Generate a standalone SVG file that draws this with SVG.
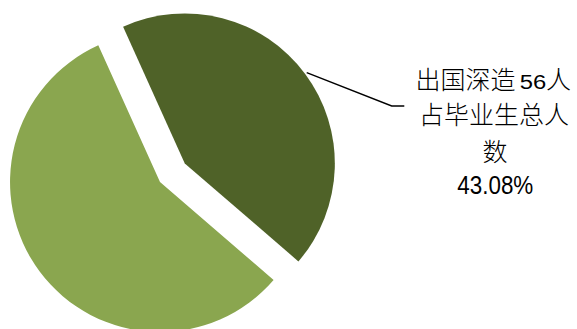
<svg xmlns="http://www.w3.org/2000/svg" width="577" height="329" viewBox="0 0 577 329">
<style>
.lbl{font-family:"Noto Sans CJK SC","Noto Sans",sans-serif;font-size:25px;font-weight:300;fill:#000}
.num{font-family:"Liberation Sans",Arial,sans-serif;font-weight:400}
.leader{fill:none;stroke:#000;stroke-width:1.4}
</style>
<rect width="577" height="329" fill="#fff"/>
<g id="slice-other">
<path d="M160,182 L273.6,280 A150,150 0 1 1 98.3,45.3 Z" fill="#8AA64F"/>
</g>
<g id="slice-abroad">
<path d="M184.8,163.4 L123.1,26.7 A150,150 0 0 1 298.4,261.4 Z" fill="#4F6228"/>
</g>
<g id="connectors">
<polyline class="leader" points="306.7,72.7 391.7,106 404.3,106"/>
</g>
<g id="label">
<text class="lbl" y="88.5"><tspan x="415.5">出国深造</tspan><tspan class="num" x="519.8" font-size="19.5" textLength="26.5" lengthAdjust="spacingAndGlyphs">56</tspan><tspan x="546">人</tspan></text>
<text class="lbl" x="494" y="123.5" text-anchor="middle">占毕业生总人</text>
<text class="lbl" x="495" y="160.5" text-anchor="middle">数</text>
<text class="lbl num" x="495.3" y="194" text-anchor="middle" font-size="25.5" textLength="76" lengthAdjust="spacingAndGlyphs">43.08%</text>
</g>
</svg>
